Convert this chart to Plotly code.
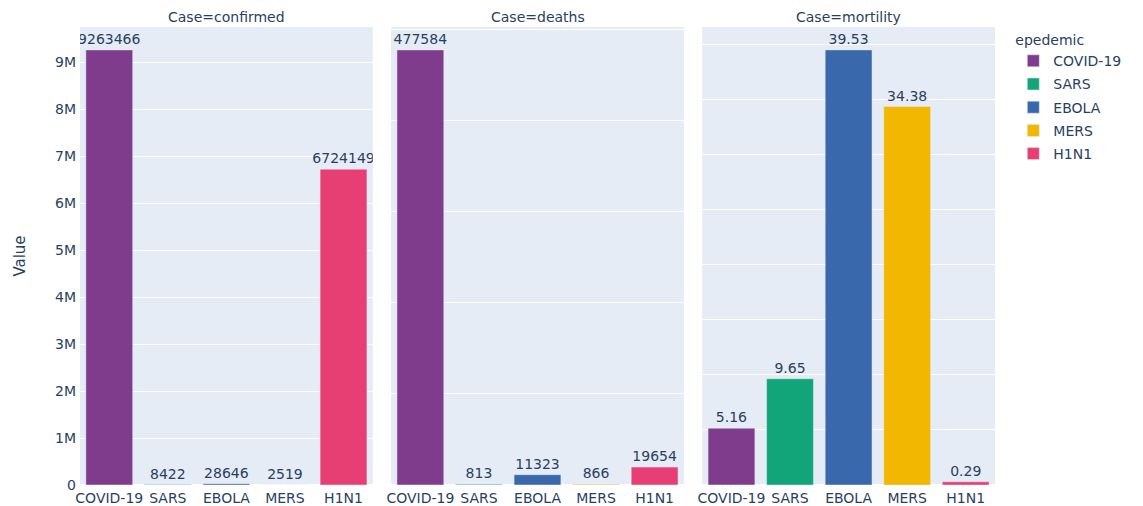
import pandas as pd
import plotly.express as px

epidemics = ["COVID-19", "SARS", "EBOLA", "MERS", "H1N1"]
cases = ["confirmed", "deaths", "mortility"]
confirmed = [9263466, 8422, 28646, 2519, 6724149]
deaths = [477584, 813, 11323, 866, 19654]
mortility = [5.16, 9.65, 39.53, 34.38, 0.29]

rows = []
for case, vals in zip(cases, [confirmed, deaths, mortility]):
    for ep, v in zip(epidemics, vals):
        rows.append({"epedemic": ep, "Case": case, "Value": v})
df = pd.DataFrame(rows)

fig = px.bar(df, x="epedemic", y="Value", color="epedemic", facet_col="Case",
             text="Value", color_discrete_sequence=px.colors.qualitative.Bold,
             facet_col_spacing=0.02)
fig.update_traces(textposition="outside", constraintext="none")
fig.update_yaxes(matches=None)
fig.update_xaxes(title=None, automargin=False, ticklabelstandoff=3)
fig.update_yaxes(automargin=False, title_font_size=15, title_standoff=25,
                 ticklabelstandoff=3)
fig.update_layout(width=1143, height=506, margin=dict(l=80, r=148, t=27, b=21),
                  font=dict(family="Verdana, DejaVu Sans", size=14),
                  legend=dict(title_font_size=14, traceorder="grouped",
                              tracegroupgap=2))
fig.write_html("out.html")
